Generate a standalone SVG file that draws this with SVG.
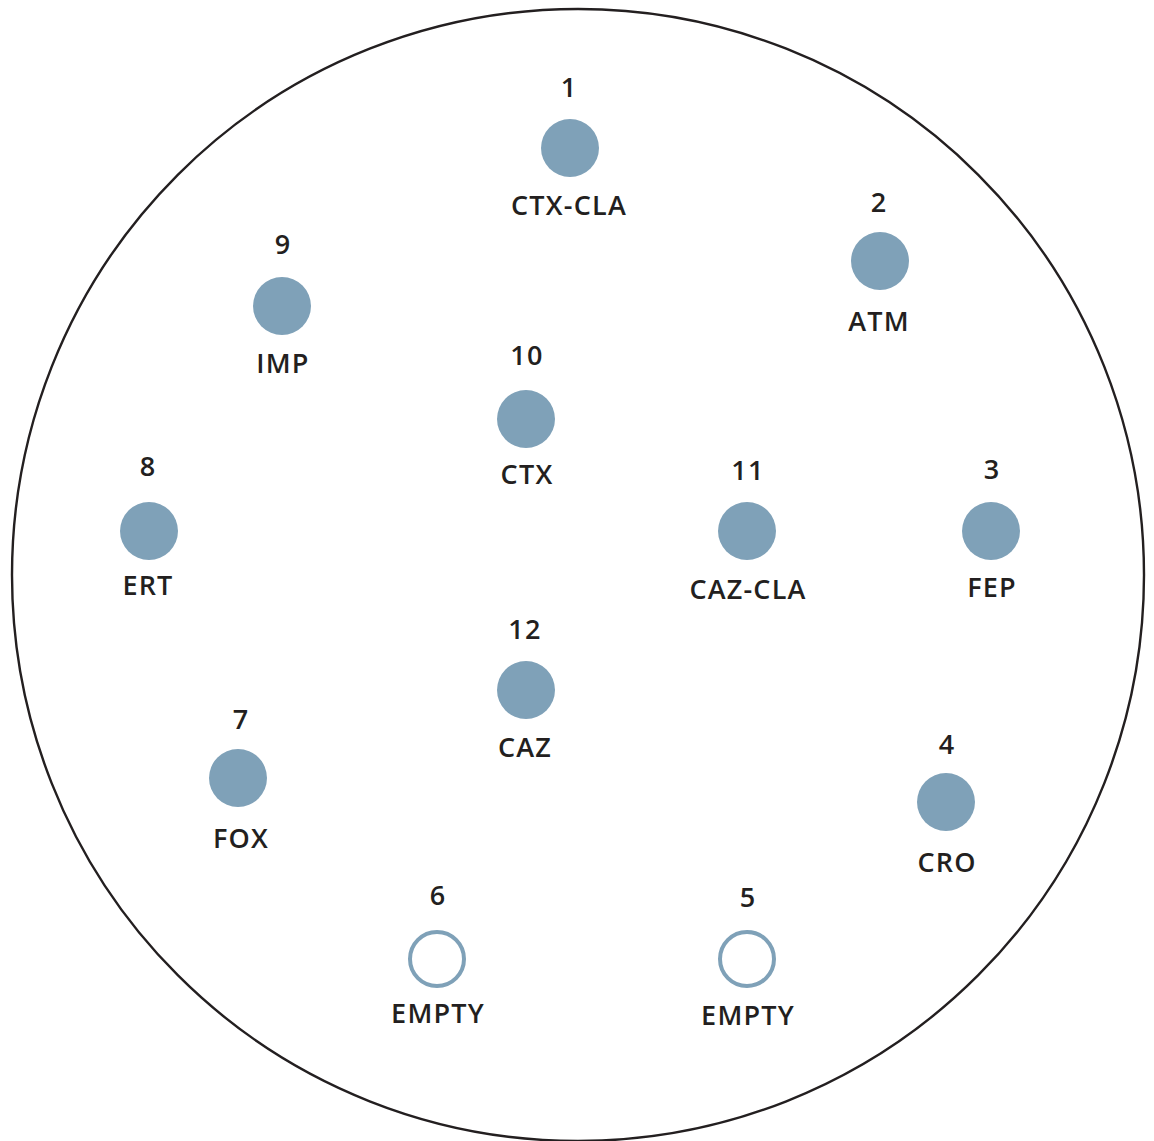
<svg xmlns="http://www.w3.org/2000/svg" width="1154" height="1141" viewBox="0 0 1154 1141">
<style>
.t{font-family:"Open Sans","Liberation Sans",sans-serif;font-weight:600;font-size:27px;letter-spacing:1.2px;fill:#231f20;text-anchor:middle}
.f{fill:#7fa1b8}
.e{fill:#fff;stroke:#7fa1b8;stroke-width:4}
</style>
<rect width="1154" height="1141" fill="#fff"/>
<circle cx="578" cy="575" r="566" fill="none" stroke="#231f20" stroke-width="2.4"/>
<g id="connectors"/>
<g id="n1"><circle class="f" cx="570" cy="148" r="29"/><text class="t" x="569" y="97">1</text><text class="t" x="569" y="215">CTX-CLA</text></g>
<g id="n2"><circle class="f" cx="880" cy="261" r="29"/><text class="t" x="879" y="212">2</text><text class="t" x="879" y="331">ATM</text></g>
<g id="n3"><circle class="f" cx="991" cy="531" r="29"/><text class="t" x="992" y="479">3</text><text class="t" x="992" y="597">FEP</text></g>
<g id="n4"><circle class="f" cx="946" cy="802" r="29"/><text class="t" x="947" y="754">4</text><text class="t" x="947" y="872">CRO</text></g>
<g id="n5"><circle class="e" cx="747" cy="959" r="27"/><text class="t" x="748" y="907">5</text><text class="t" x="748" y="1025">EMPTY</text></g>
<g id="n6"><circle class="e" cx="437" cy="959" r="27"/><text class="t" x="438" y="905">6</text><text class="t" x="438" y="1023">EMPTY</text></g>
<g id="n7"><circle class="f" cx="238" cy="778" r="29"/><text class="t" x="241" y="729">7</text><text class="t" x="241" y="848">FOX</text></g>
<g id="n8"><circle class="f" cx="149" cy="531" r="29"/><text class="t" x="148" y="476">8</text><text class="t" x="148" y="595">ERT</text></g>
<g id="n9"><circle class="f" cx="282" cy="306" r="29"/><text class="t" x="283" y="254">9</text><text class="t" x="283" y="373">IMP</text></g>
<g id="n10"><circle class="f" cx="526" cy="419" r="29"/><text class="t" x="527" y="365">10</text><text class="t" x="527" y="484">CTX</text></g>
<g id="n11"><circle class="f" cx="747" cy="531" r="29"/><text class="t" x="748" y="480">11</text><text class="t" x="748" y="599">CAZ-CLA</text></g>
<g id="n12"><circle class="f" cx="526" cy="690" r="29"/><text class="t" x="525" y="639">12</text><text class="t" x="525" y="757">CAZ</text></g>
</svg>
